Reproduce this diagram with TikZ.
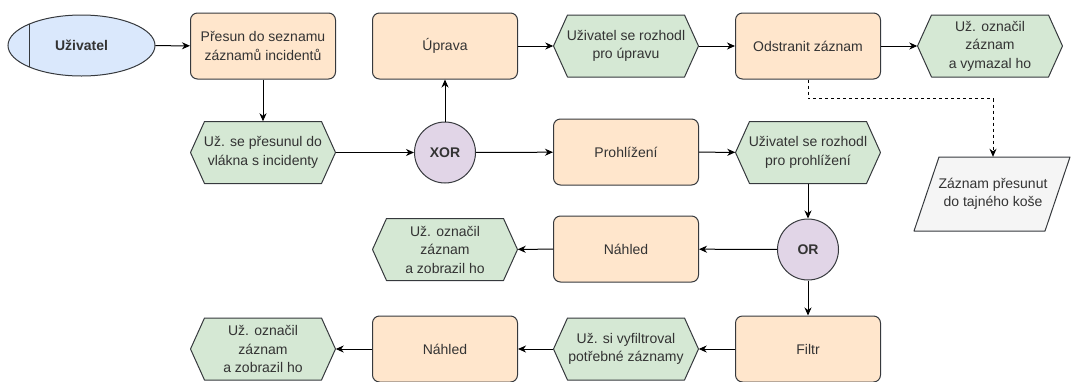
\documentclass[tikz,border=0pt]{standalone}
\usepackage{fontspec}
\setmainfont{Liberation Sans}
\usetikzlibrary{arrows.meta,shapes.geometric}

\definecolor{edgec}{HTML}{36393D}
\definecolor{txt}{HTML}{333333}
\definecolor{orangef}{HTML}{FFE6CC}
\definecolor{greenf}{HTML}{D5E8D4}
\definecolor{purplef}{HTML}{E1D5E7}
\definecolor{bluef}{HTML}{DAE8FC}
\definecolor{grayf}{HTML}{F5F5F5}

\tikzset{
  base/.style={font=\fontsize{14}{18.5}\selectfont, text=txt, align=center, inner sep=0pt},
  fn/.style={base, draw=edgec, fill=orangef, rounded corners=7pt,
             minimum width=145pt, minimum height=66pt, line width=1pt},
  evtext/.style={base, minimum width=145pt, minimum height=62pt},
  evshape/.style={draw=edgec, fill=greenf, line width=1pt, line join=round},
  gate/.style={base, circle, draw=edgec, fill=purplef, minimum size=61pt,
               line width=1pt, font=\fontsize{14}{18.5}\selectfont\bfseries},
  actor/.style={base, ellipse, draw=edgec, fill=bluef, minimum width=147pt,
                minimum height=61pt, line width=1pt, font=\fontsize{14}{18.5}\selectfont\bfseries},
  infobox/.style={base, minimum width=130pt, minimum height=74pt},
  flow/.style={draw=black, line width=1pt, -{Stealth[length=8pt,width=7pt,inset=2.5pt]}},
  dflow/.style={flow, dash pattern=on 3pt off 3pt}
}

% event hexagon: name, x, y, text
\newcommand\eventhex[4]{%
  \path[evshape] (#2-72.5,#3) -- (#2-58.5,#3-31) -- (#2+58.5,#3-31) -- (#2+72.5,#3)
     -- (#2+58.5,#3+31) -- (#2-58.5,#3+31) -- cycle;
  \node[evtext] (#1) at (#2,#3) {#4};}

\begin{document}
\begin{tikzpicture}[x=1pt,y=-1pt]
\useasboundingbox (0,0) rectangle (1071,381);

% organisation unit
\node[actor] (u) at (81.5,45.5) {Uživatel};
\draw[edgec, line width=1pt] ([xshift=-52pt,yshift=21.6pt]u.center) -- ([xshift=-52pt,yshift=-21.6pt]u.center);

% functions
\node[fn] (p1)      at (263,46)  {Přesun do seznamu\\záznamů incidentů};
\node[fn] (uprava)  at (445,46)  {Úprava};
\node[fn] (odstr)   at (808,46)  {Odstranit záznam};
\node[fn] (prohl)   at (626,152) {Prohlížení};
\node[fn] (nahleda) at (626,249) {Náhled};
\node[fn] (filtr)   at (808,349) {Filtr};
\node[fn] (nahledb) at (445,349) {Náhled};

% events
\eventhex{h1}{263}{152.5}{Už. se přesunul do\\vlákna s incidenty}
\eventhex{h2}{626}{46}{Uživatel se rozhodl\\pro úpravu}
\eventhex{h3}{990}{46}{Už. označil\\záznam\\a vymazal ho}
\eventhex{h4}{808}{152.5}{Uživatel se rozhodl\\pro prohlížení}
\eventhex{h5}{445}{249.5}{Už. označil\\záznam\\a zobrazil ho}
\eventhex{h6}{626}{349}{Už. si vyfiltroval\\potřebné záznamy}
\eventhex{h7}{263}{349}{Už. označil\\záznam\\a zobrazil ho}

% connectors (logical operators)
\node[gate] (xor) at (445,152.5) {XOR};
\node[gate] (or)  at (808,249.5) {OR};

% information object
\path[draw=edgec, fill=grayf, line width=1pt, line join=round]
  (939,157) -- (1070,157) -- (1045,231) -- (914,231) -- cycle;
\node[infobox] (trash) at (993,194) {Záznam přesunut\\do tajného koše};

% control flow
\draw[flow] (u) -- (p1);
\draw[flow] (p1) -- (h1);
\draw[flow] (h1) -- (xor);
\draw[flow] (xor) -- (uprava);
\draw[flow] (xor) -- (prohl);
\draw[flow] (uprava) -- (h2);
\draw[flow] (h2) -- (odstr);
\draw[flow] (odstr) -- (h3);
\draw[dflow] (odstr.south) -- ++(0,19) -| (trash.north);
\draw[flow] (prohl) -- (h4);
\draw[flow] (h4) -- (or);
\draw[flow] (or) -- (nahleda);
\draw[flow] (nahleda) -- (h5);
\draw[flow] (or) -- (filtr);
\draw[flow] (filtr) -- (h6);
\draw[flow] (h6) -- (nahledb);
\draw[flow] (nahledb) -- (h7);
\end{tikzpicture}
\end{document}
